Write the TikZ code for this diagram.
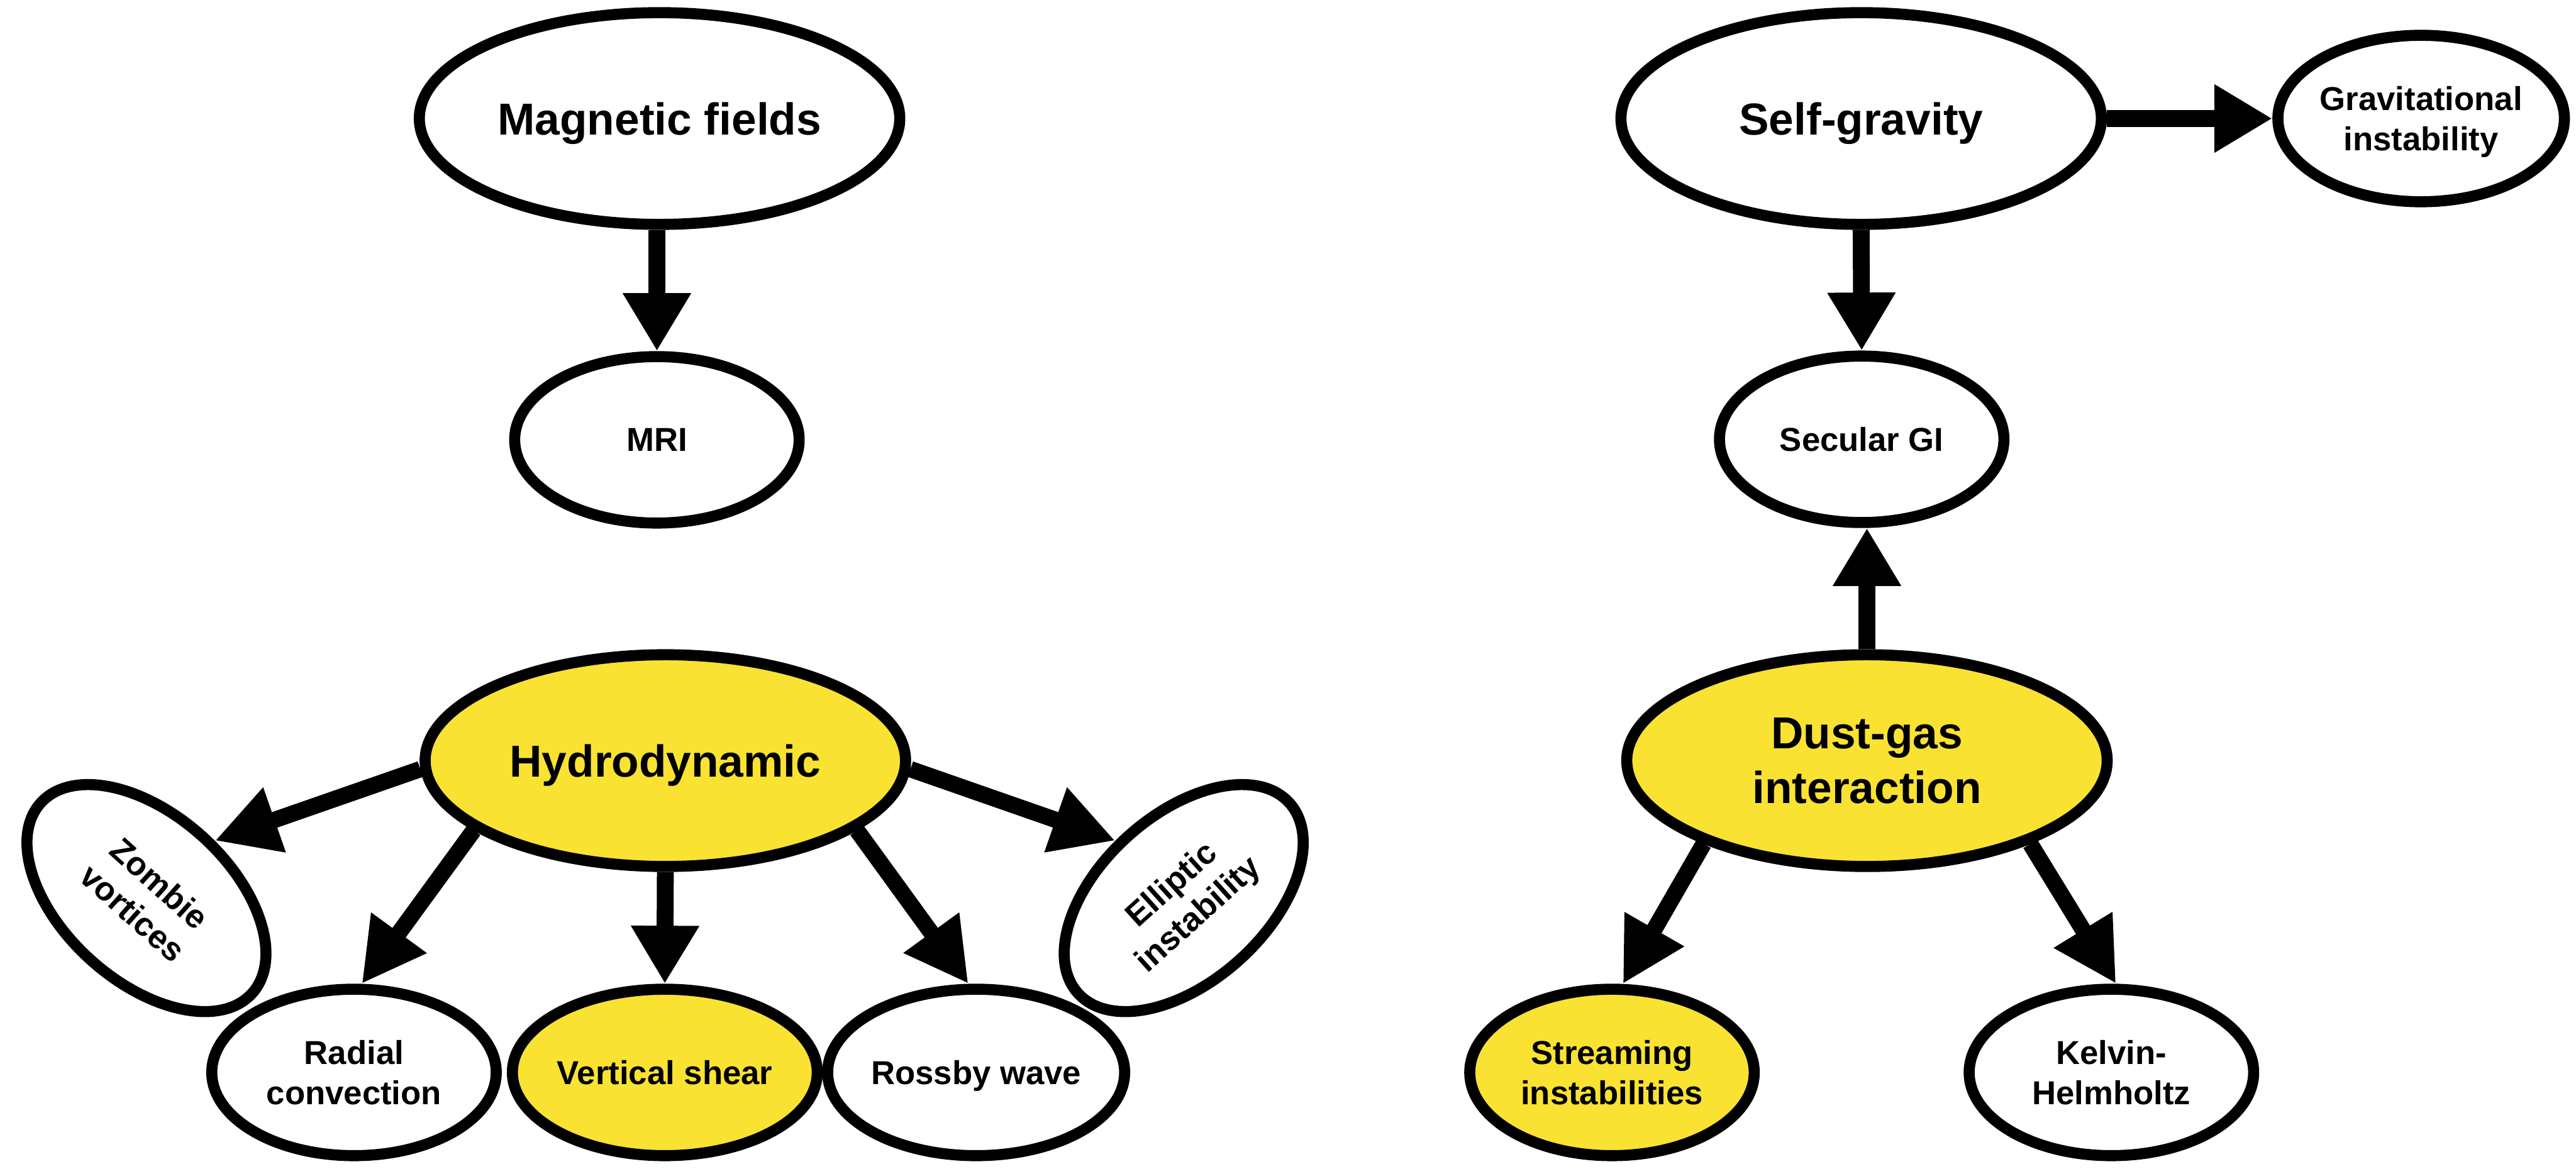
\documentclass[tikz,border=0pt]{standalone}
\usepackage{fontspec}
\setmainfont{Liberation Sans}
\usetikzlibrary{shapes.geometric,arrows.meta,calc}
\definecolor{hlyellow}{RGB}{249,226,50}
\begin{document}
\begin{tikzpicture}[x=1cm,y=1cm,
  bigell/.style={ellipse, draw, line width=0.21cm, minimum width=9.12cm, minimum height=4.02cm,
    inner sep=0pt, align=center, font=\fontsize{24.2pt}{29.6pt}\selectfont\bfseries, text depth=0pt},
  smallell/.style={ellipse, draw, line width=0.21cm, minimum width=5.40cm, minimum height=3.16cm,
    inner sep=0pt, align=center, font=\fontsize{17.9pt}{21.6pt}\selectfont\bfseries, text depth=0pt},
  hl/.style={fill=hlyellow},
  arr/.style={line width=0.32cm, -{Triangle[length=1.1cm,width=1.22cm]}},
  sarr/.style={line width=0.31cm, -{Triangle[length=1.2cm,width=1.22cm]}},
]
\path[fill=white,use as bounding box] (0,0) rectangle (48.90,-22.19);

\node[bigell] (mag) at (12.52,-2.25) {Magnetic fields};
\node[smallell] (mri) at (12.47,-8.35) {MRI};
\node[bigell] (self) at (35.33,-2.25) {Self-gravity};
\node[smallell] (gi) at (45.96,-2.25) {Gravitational\\instability};
\node[smallell] (sec) at (35.34,-8.34) {Secular GI};

\node[bigell,hl] (hydro) at (12.63,-14.44) {Hydrodynamic};
\node[smallell,rotate=-42] (zombie) at (2.78,-17.05) {Zombie\\vortices};
\node[smallell,rotate=42] (elliptic) at (22.47,-17.05) {Elliptic\\instability};
\node[smallell] (radial) at (6.72,-20.36) {Radial\\convection};
\node[smallell,hl] (vshear) at (12.62,-20.36) {Vertical shear};
\node[smallell] (rossby) at (18.53,-20.36) {Rossby wave};

\node[bigell,hl] (dust) at (35.44,-14.44) {Dust-gas\\interaction};
\node[smallell,hl] (stream) at (30.60,-20.36) {Streaming\\instabilities};
\node[smallell] (kelvin) at (40.08,-20.36) {Kelvin-\\Helmholtz};

\draw[arr] (mri.north |- mag.south) -- (mri.north);
\draw[arr] (self.east) -- (gi.west);
\draw[arr] (self.south) -- (sec.north);
\draw[arr] (dust.north) -- (dust.north |- sec.south);
\draw[arr] (hydro.south) -- (vshear.north);
\draw[sarr] (hydro.200) -- (radial.85);
\draw[sarr] (hydro.340) -- (rossby.95);
\draw[sarr] (hydro.182) -- (zombie.82);
\draw[sarr] (hydro.358) -- (elliptic.98);
\draw[sarr] (dust.207) -- (stream.83);
\draw[sarr] (dust.333) -- (kelvin.87);
\end{tikzpicture}
\end{document}
